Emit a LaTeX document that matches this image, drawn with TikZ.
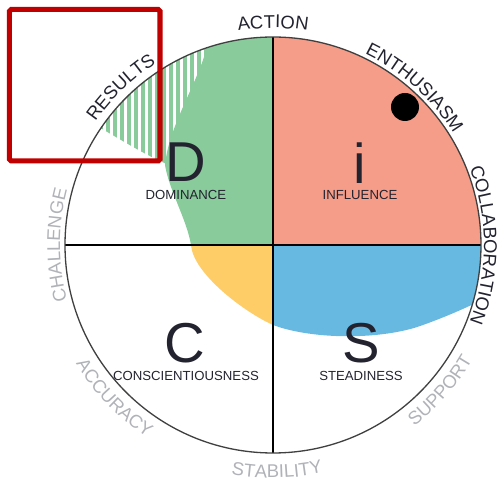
\documentclass[tikz,border=0pt]{standalone}
\usepackage{fontspec}
\setmainfont{Liberation Sans}
\usetikzlibrary{decorations.text}
\definecolor{dgreen}{RGB}{137,203,155}
\definecolor{dred}{RGB}{246,157,137}
\definecolor{dblue}{RGB}{104,185,226}
\definecolor{dyellow}{RGB}{254,205,104}
\definecolor{labeldark}{RGB}{35,35,48}
\definecolor{labelgrey}{RGB}{176,178,184}
\definecolor{boxred}{RGB}{192,0,0}
\newcommand{\ringfont}{\fontsize{10.5}{12}\selectfont}
\tikzset{letter/.style = {inner sep = 0, text = labeldark, font = \fontsize{32}{36}\selectfont}}
\tikzset{trait/.style = {inner sep = 0, text = labeldark, font = \fontsize{7.5}{9}\selectfont}}
\tikzset{hatch/.style = {draw = dgreen, line width = 2.2pt}}
\tikzset{ring/.style = {decorate, decoration = {text along path, text align = center}}}

\begin{document}
\begin{tikzpicture}[x = 0.02cm, y = 0.02cm]
      \useasboundingbox (-273, -238) rectangle (228, 245);
      \begin{scope}
        \clip (0, 0) circle (208);
        \fill [dred] (0, 0) rectangle (215, 215);
        % striped part next to D
        \begin{scope}
          \clip (-215, 128) -- (-176, 119) .. controls (-150, 104) and (-128, 90) .. (-104, 80) -- (-40, 80) -- (-40, 215) -- (-215, 215) -- cycle;
          \foreach \x in {-200, -193, ..., -40}
            \draw [hatch] (\x, 60) -- (\x, 215);
        \end{scope}
        \fill [dgreen] (0, 0) -- (-82, 0) .. controls (-86, 25) and (-104, 55) .. (-108, 80) .. controls (-104, 120) and (-76, 160) .. (-66, 198) -- (-62, 215) -- (0, 215) -- cycle;
        \fill [dyellow] (0, 0) -- (-82, 0) .. controls (-80, -28) and (-30, -66.5) .. (0, -80) -- cycle;
        \fill [dblue] (0, 0) -- (0, -80) .. controls (40, -95) and (110, -95) .. (150, -80) .. controls (175, -71) and (195, -62) .. (215, -52) -- (215, 0) -- cycle;
      \end{scope}
      \draw [line width = 1pt] (-208, 0) -- (208, 0);
      \draw [line width = 1pt] (0, 208) -- (0, -208);
      \draw [line width = 0.75pt, black!75] (0, 0) circle (208);
      \fill (132, 138) circle (14);
      \node [letter] (D) at (-87, 83) {D};
      \node [letter] (I) at (87, 82) {i};
      \node [letter] (C) at (-88, -98) {C};
      \node [letter] (S) at (88, -98) {S};
      \node [trait] (dName) at (-87, 50) {DOMINANCE};
      \node [trait] (iName) at (87, 50) {INFLUENCE};
      \node [trait] (cName) at (-87, -131) {CONSCIENTIOUSNESS};
      \node [trait] (sName) at (88, -131) {STEADINESS};
      % words round the circle
      \path [ring, decoration = {text = {|\ringfont|ACTION}, text color = labeldark}] (130:217) arc [start angle = 130, end angle = 50, radius = 217];
      \path [ring, decoration = {text = {|\ringfont|ENTHUSIASM}, text color = labeldark}] (93:212) arc [start angle = 93, end angle = 3, radius = 212];
      \path [ring, decoration = {text = {|\ringfont|COLLABORATION}, text color = labeldark}] (50:211) arc [start angle = 50, end angle = -50, radius = 211];
      \path [ring, decoration = {text = {|\ringfont|RESULTS}, text color = labeldark}] (174:216) arc [start angle = 174, end angle = 94, radius = 216];
      \path [ring, decoration = {text = {|\ringfont|CHALLENGE}, text color = labelgrey}] (225:213) arc [start angle = 225, end angle = 135, radius = 213];
      \path [ring, decoration = {text = {|\ringfont|ACCURACY}, text color = labelgrey}] (184:230) arc [start angle = 184, end angle = 264, radius = 230];
      \path [ring, decoration = {text = {|\ringfont|STABILITY}, text color = labelgrey}] (231:233) arc [start angle = 231, end angle = 311, radius = 233];
      \path [ring, decoration = {text = {|\ringfont|SUPPORT}, text color = labelgrey}] (279:230) arc [start angle = 279, end angle = 359, radius = 230];
      \draw [boxred, line width = 2.85pt, rounded corners = 1pt] (-263.5, 84) rectangle (-113, 235.5);
    \end{tikzpicture}
\end{document}
